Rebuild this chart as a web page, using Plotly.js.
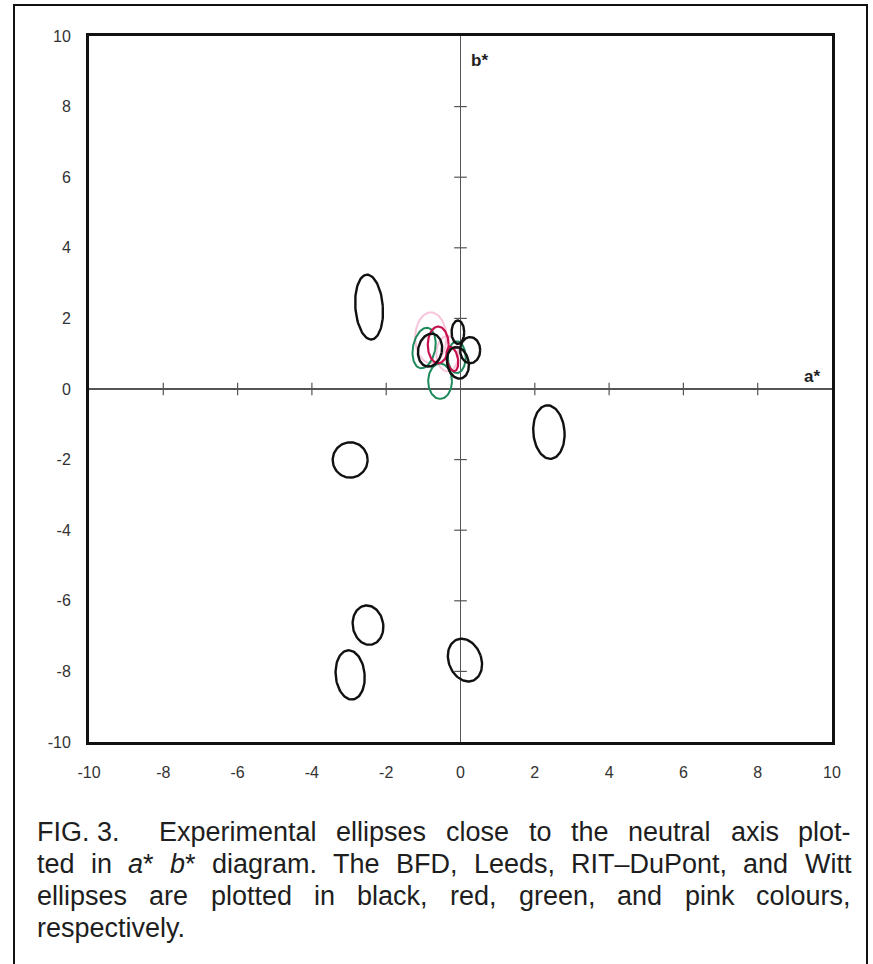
<!DOCTYPE html>
<html>
<head>
<meta charset="utf-8">
<script src="https://cdn.plot.ly/plotly-3.0.1.min.js"></script>
<style>
  html, body { margin: 0; padding: 0; background: #ffffff; }
  #chart { width: 873px; height: 964px; }
</style>
</head>
<body>
<div id="chart"></div>
<script>
// Colour-discrimination ellipses near the neutral axis, a*b* plane.
// Each ellipse: centre (a*, b*), semi-axes (ra, rb), rotation in degrees.
const bfdA   = [-2.46, -2.97,  2.38, -2.49, -2.97,  0.12, -0.07,  0.26, -0.07, -0.82];
const bfdB   = [ 2.32, -2.01, -1.22, -6.69, -8.10, -7.68,  1.61,  1.10,  0.74,  1.10];
const bfdRa  = [ 0.37,  0.47,  0.42,  0.41,  0.39,  0.44,  0.17,  0.27,  0.29,  0.32];
const bfdRb  = [ 0.92,  0.50,  0.76,  0.56,  0.70,  0.62,  0.33,  0.37,  0.45,  0.47];
const bfdRot = [    4,     0,     4,     8,     5,    18,     0,     0,    10,   -10];

const leedsA   = [-0.60, -0.22];
const leedsB   = [ 1.25,  0.85];
const leedsRa  = [ 0.28,  0.15];
const leedsRb  = [ 0.52,  0.35];
const leedsRot = [    0,    10];

const ritA   = [-0.98, -0.55, -0.10];
const ritB   = [ 1.16,  0.22,  0.90];
const ritRa  = [ 0.30,  0.32,  0.24];
const ritRb  = [ 0.58,  0.50,  0.45];
const ritRot = [  -10,     0,     0];

const wittA   = [-0.80, -0.35];
const wittB   = [ 1.45,  1.00];
const wittRa  = [ 0.42,  0.30];
const wittRb  = [ 0.72,  0.50];
const wittRot = [    0,     0];

const tickVals = [-10, -8, -6, -4, -2, 0, 2, 4, 6, 8, 10];
const innerTicks = [-8, -6, -4, -2, 2, 4, 6, 8];

// Caption, one entry per printed line (the last line is not justified).
const captionLead = 'FIG. 3.';
const captionLines = [
  'Experimental ellipses close to the neutral axis plot-',
  'ted in <i>a</i>* <i>b</i>* diagram. The BFD, Leeds, RIT–DuPont, and Witt',
  'ellipses are plotted in black, red, green, and pink colours,',
  'respectively.'
];

// Plot-area geometry in pixels, used to place paper-referenced text.
const W = 873, H = 964, ML = 89, MR = 41, MT = 36, MB = 222;
const PW = W - ML - MR, PH = H - MT - MB;
const px2x = p => (p - ML) / PW;
const px2y = p => 1 - (p - MT) / PH;

// Trace an outline for each ellipse, separated by gaps.
function outline(ca, cb, ra, rb, rot) {
  const xs = [], ys = [];
  const n = 90;
  for (let k = 0; k < ca.length; k++) {
    const th = rot[k] * Math.PI / 180;
    for (let i = 0; i <= n; i++) {
      const t = 2 * Math.PI * i / n;
      const u = ra[k] * Math.cos(t), v = rb[k] * Math.sin(t);
      xs.push(ca[k] + u * Math.cos(th) - v * Math.sin(th));
      ys.push(cb[k] + u * Math.sin(th) + v * Math.cos(th));
    }
    xs.push(null); ys.push(null);
  }
  return { x: xs, y: ys };
}

function ellipseTrace(name, o, color, width) {
  return {
    type: 'scatter', mode: 'lines', name: name,
    x: o.x, y: o.y, connectgaps: false,
    line: { color: color, width: width },
    hoverinfo: 'skip'
  };
}

const traces = [
  ellipseTrace('Witt', outline(wittA, wittB, wittRa, wittRb, wittRot), 'rgba(240,150,190,0.55)', 2),
  ellipseTrace('RIT–DuPont', outline(ritA, ritB, ritRa, ritRb, ritRot), '#1f8a5c', 2),
  ellipseTrace('Leeds', outline(leedsA, leedsB, leedsRa, leedsRb, leedsRot), '#c8124e', 2.2),
  ellipseTrace('BFD', outline(bfdA, bfdB, bfdRa, bfdRb, bfdRot), '#111111', 2.4),
  // tick marks crossing the central a* and b* axes
  {
    type: 'scatter', mode: 'markers', x: innerTicks, y: innerTicks.map(() => 0),
    marker: { symbol: 'line-ns-open', size: 9, color: '#555555', line: { color: '#555555', width: 1.2 } },
    hoverinfo: 'skip'
  },
  {
    type: 'scatter', mode: 'markers', x: innerTicks.map(() => 0), y: innerTicks,
    marker: { symbol: 'line-ew-open', size: 9, color: '#555555', line: { color: '#555555', width: 1.2 } },
    hoverinfo: 'skip'
  }
];

const axisCommon = {
  range: [-10, 10],
  tickvals: tickVals,
  ticktext: tickVals.map(String),
  showgrid: false,
  zeroline: true,
  zerolinecolor: '#555555',
  zerolinewidth: 1.5,
  showline: true,
  mirror: true,
  linecolor: '#111111',
  linewidth: 3,
  ticks: '',
  tickfont: { family: 'Liberation Sans, Arial, sans-serif', size: 16, color: '#333333' },
  fixedrange: true
};

// Justified caption: words are measured and spread across the text block.
const capFamily = 'Liberation Sans';
const capSize = 27;
const capLeft = 35, capRight = 849, capIndent = 157;
const captionY = [832, 864, 896, 928];
const ctx = document.createElement('canvas').getContext('2d');
ctx.font = capSize + "px '" + capFamily + "'";
const plain = s => s.replace(/<[^>]+>/g, '');
const measure = s => ctx.measureText(plain(s)).width;

const annotations = [
  { text: '<b>a*</b>', x: px2x(812), y: px2y(376), xref: 'paper', yref: 'paper', showarrow: false,
    xanchor: 'center', yanchor: 'middle',
    font: { family: 'Liberation Sans, Arial, sans-serif', size: 17, color: '#222' } },
  { text: '<b>b*</b>', x: px2x(479), y: px2y(60), xref: 'paper', yref: 'paper', showarrow: false,
    xanchor: 'center', yanchor: 'middle',
    font: { family: 'Liberation Sans, Arial, sans-serif', size: 17, color: '#222' } }
];

function addWord(word, left, py) {
  annotations.push({
    text: word, xref: 'paper', yref: 'paper', showarrow: false,
    x: px2x(left), y: px2y(py), xanchor: 'left', yanchor: 'middle',
    font: { family: capFamily + ', Arial, sans-serif', size: capSize, color: '#1e1e1e' }
  });
}

addWord(captionLead, capLeft, captionY[0]);
captionLines.forEach((line, i) => {
  const words = line.split(' ');
  const start = i === 0 ? capIndent : capLeft;
  const widths = words.map(measure);
  const total = widths.reduce((a, b) => a + b, 0);
  const last = i === captionLines.length - 1;
  const gap = last ? measure(' ') : (capRight - start - total) / (words.length - 1);
  let x = start;
  words.forEach((w, j) => {
    addWord(w, x, captionY[i]);
    x += widths[j] + gap;
  });
});

const layout = {
  width: W, height: H,
  margin: { l: ML, r: MR, t: MT, b: MB },
  paper_bgcolor: '#ffffff',
  plot_bgcolor: '#ffffff',
  showlegend: false,
  xaxis: Object.assign({}, axisCommon, { ticklabelstandoff: 14 }),
  yaxis: Object.assign({}, axisCommon, { ticklabelstandoff: 12 }),
  annotations: annotations,
  shapes: [
    { type: 'rect', xref: 'paper', yref: 'paper',
      x0: px2x(14), x1: px2x(867), y0: px2y(990), y1: px2y(5),
      line: { color: '#111', width: 2 }, layer: 'below' }
  ]
};

Plotly.newPlot('chart', traces, layout, { displayModeBar: false, staticPlot: true });
</script>
</body>
</html>
